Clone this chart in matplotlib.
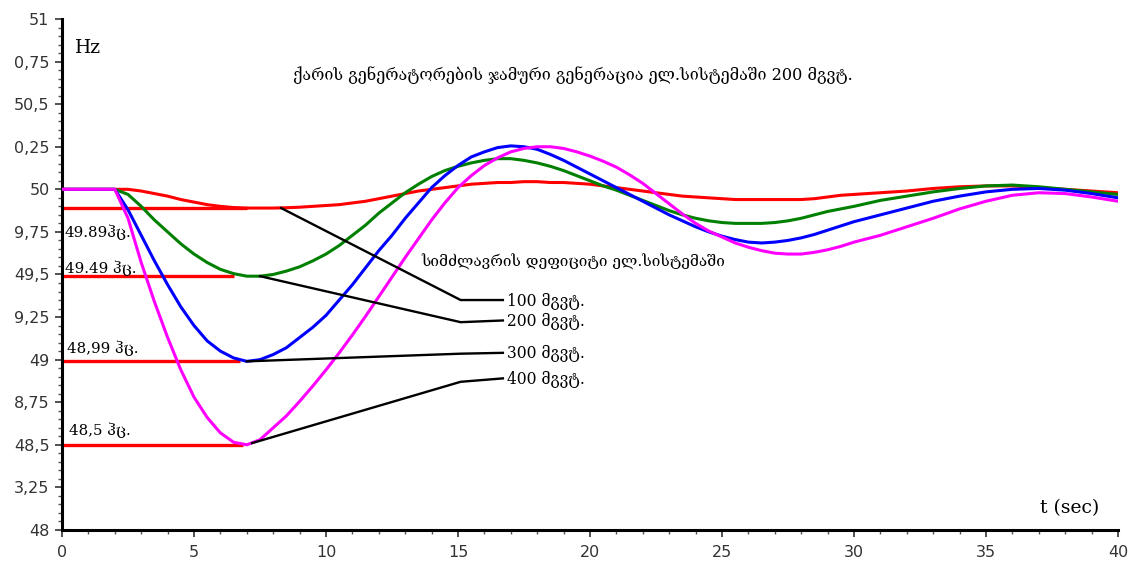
import matplotlib
matplotlib.use("Agg")
import matplotlib.pyplot as plt
from matplotlib.ticker import MultipleLocator

# time grid, seconds
t = ([0, 1, 2]
     + [2.5, 3, 3.5, 4, 4.5, 5]
     + [5.5, 6, 6.5, 7, 7.5, 8, 8.5, 9, 9.5, 10]
     + [10.5, 11, 11.5, 12, 12.5, 13, 13.5, 14, 14.5, 15]
     + [15.5, 16, 16.5, 17, 17.5, 18, 18.5, 19, 19.5, 20]
     + [20.5, 21, 21.5, 22, 22.5, 23, 23.5, 24, 24.5, 25]
     + [25.5, 26, 26.5, 27, 27.5, 28, 28.5, 29, 29.5, 30]
     + [31, 32, 33, 34, 35, 36, 37, 38, 39, 40])

# frequency response (Hz) for each power deficit
f_100 = ([50, 50, 50]
         + [50.00, 49.99, 49.975, 49.96, 49.94, 49.925]
         + [49.91, 49.90, 49.893, 49.89, 49.89, 49.89, 49.892, 49.895, 49.90, 49.905]
         + [49.91, 49.92, 49.93, 49.945, 49.96, 49.975, 49.99, 50.00, 50.01, 50.02]
         + [50.03, 50.035, 50.04, 50.04, 50.045, 50.045, 50.04, 50.04, 50.035, 50.03]
         + [50.02, 50.01, 50.00, 49.99, 49.98, 49.97, 49.96, 49.955, 49.95, 49.945]
         + [49.94, 49.94, 49.94, 49.94, 49.94, 49.94, 49.945, 49.955, 49.965, 49.97]
         + [49.98, 49.99, 50.005, 50.015, 50.02, 50.02, 50.01, 50.00, 49.99, 49.98])
f_200 = ([50, 50, 50]
         + [49.97, 49.90, 49.82, 49.75, 49.68, 49.62]
         + [49.57, 49.53, 49.505, 49.49, 49.49, 49.50, 49.52, 49.545, 49.58, 49.62]
         + [49.67, 49.73, 49.79, 49.86, 49.92, 49.98, 50.03, 50.075, 50.11, 50.135]
         + [50.155, 50.17, 50.18, 50.18, 50.17, 50.155, 50.135, 50.11, 50.08, 50.05]
         + [50.02, 49.995, 49.965, 49.935, 49.905, 49.875, 49.85, 49.83, 49.815, 49.805]
         + [49.80, 49.80, 49.80, 49.805, 49.815, 49.83, 49.85, 49.87, 49.885, 49.90]
         + [49.935, 49.96, 49.985, 50.005, 50.02, 50.025, 50.015, 50.00, 49.985, 49.97])
f_300 = ([50, 50, 50]
         + [49.88, 49.73, 49.58, 49.44, 49.31, 49.20]
         + [49.11, 49.05, 49.01, 48.99, 49.00, 49.03, 49.07, 49.13, 49.19, 49.26]
         + [49.35, 49.44, 49.54, 49.64, 49.73, 49.83, 49.92, 50.01, 50.08, 50.14]
         + [50.19, 50.22, 50.245, 50.255, 50.25, 50.235, 50.205, 50.17, 50.13, 50.09]
         + [50.05, 50.01, 49.97, 49.93, 49.89, 49.85, 49.815, 49.78, 49.75, 49.725]
         + [49.705, 49.69, 49.685, 49.69, 49.70, 49.715, 49.735, 49.76, 49.785, 49.81]
         + [49.85, 49.89, 49.93, 49.96, 49.985, 50.00, 50.005, 49.995, 49.975, 49.95])
f_400 = ([50, 50, 50]
         + [49.83, 49.57, 49.34, 49.13, 48.94, 48.78]
         + [48.66, 48.57, 48.515, 48.50, 48.53, 48.60, 48.67, 48.755, 48.845, 48.94]
         + [49.04, 49.145, 49.255, 49.37, 49.485, 49.60, 49.71, 49.82, 49.92, 50.01]
         + [50.08, 50.14, 50.185, 50.22, 50.24, 50.25, 50.25, 50.24, 50.22, 50.195]
         + [50.165, 50.13, 50.085, 50.035, 49.975, 49.915, 49.855, 49.80, 49.755, 49.72]
         + [49.685, 49.66, 49.64, 49.625, 49.62, 49.62, 49.63, 49.645, 49.665, 49.69]
         + [49.73, 49.78, 49.83, 49.885, 49.93, 49.965, 49.98, 49.975, 49.955, 49.93])

# minimum frequency levels and their labels
min_levels = [49.89, 49.49, 48.99, 48.5]
min_ends = [7.0, 6.5, 6.75, 6.85]
min_labels = ["49.89ჰც.", "49.49 ჰც.", "48,99 ჰც.", "48,5 ჰც."]
min_label_pos = [(0.1, 49.75), (0.1, 49.535), (0.2, 49.065), (0.25, 48.585)]

# leader lines from each minimum to its deficit label
leaders = [
    ([8.3, 15.1, 16.7], [49.89, 49.35, 49.35]),
    ([7.5, 15.1, 16.7], [49.49, 49.22, 49.23]),
    ([7.0, 15.1, 16.7], [48.99, 49.035, 49.04]),
    ([7.2, 15.1, 16.7], [48.51, 48.87, 48.89]),
]
deficit_labels = ["100 მგვტ.", "200 მგვტ.", "300 მგვტ.", "400 მგვტ."]

y_ticks = [48, 48.25, 48.5, 48.75, 49, 49.25, 49.5, 49.75, 50, 50.25, 50.5, 50.75, 51]
y_tick_labels = ["48", "3,25", "48,5", "8,75", "49", "9,25", "49,5", "9,75", "50",
                 "0,25", "50,5", "0,75", "51"]
x_ticks = [0, 5, 10, 15, 20, 25, 30, 35, 40]

title_text = "ქარის გენერატორების ჯამური გენერაცია ელ.სისტემაში 200 მგვტ."
deficit_text = "სიმძლავრის დეფიციტი ელ.სისტემაში"

serif = ["DejaVu Serif", "DejaVu Sans"]

fig = plt.figure(figsize=(11.4, 5.67), dpi=100)
ax = fig.add_axes([0.0544, 0.0653, 0.9263, 0.9012])

for lvl, xe in zip(min_levels, min_ends):
    ax.plot([0, xe], [lvl, lvl], color="#ff0000", lw=2.4, solid_capstyle="butt", zorder=2)

ax.plot(t, f_100, color="#ff0000", lw=2.2, zorder=3)
ax.plot(t, f_200, color="#008000", lw=2.2, zorder=4)
ax.plot(t, f_300, color="#0000ff", lw=2.2, zorder=5)
ax.plot(t, f_400, color="#ff00ff", lw=2.2, zorder=6)

for xs, ys in leaders:
    ax.plot(xs, ys, color="black", lw=1.7, zorder=7)
for (xs, ys), lab in zip(leaders, deficit_labels):
    ax.text(xs[-1] + 0.15, ys[-1], lab, fontsize=11.2, family=serif,
            va="center", ha="left")

for (x, y), lab in zip(min_label_pos, min_labels):
    ax.text(x, y, lab, fontsize=10.8, family=serif, va="center", ha="left")

ax.text(0.5, 50.83, "Hz", fontsize=13.5, family=serif, va="center", ha="left")
ax.text(39.3, 48.13, "t (sec)", fontsize=13.5, family=serif, va="center", ha="right")
ax.text(8.75, 50.67, title_text, fontsize=11.6, family=serif, va="center", ha="left")
ax.text(13.6, 49.575, deficit_text, fontsize=11.1, family=serif, va="center", ha="left")

ax.set_xlim(0, 40)
ax.set_ylim(48, 51)
ax.set_xticks(x_ticks)
ax.set_xticklabels([str(v) for v in x_ticks])
ax.xaxis.set_minor_locator(MultipleLocator(1))
ax.set_yticks(y_ticks)
ax.set_yticklabels(y_tick_labels)
ax.yaxis.set_minor_locator(MultipleLocator(0.05))

for side in ("top", "right"):
    ax.spines[side].set_visible(False)
for side in ("left", "bottom"):
    ax.spines[side].set_linewidth(2.2)
    ax.spines[side].set_color("black")

ax.tick_params(axis="both", which="major", direction="out", length=5, width=1.2,
               labelsize=11.5, labelcolor="#333333", colors="#333333")
ax.tick_params(axis="both", which="minor", direction="out", length=3, width=1.0,
               colors="#555555")
ax.tick_params(axis="y", pad=4)
ax.tick_params(axis="x", pad=6)

fig.savefig("out.png", dpi=100, facecolor="white")
